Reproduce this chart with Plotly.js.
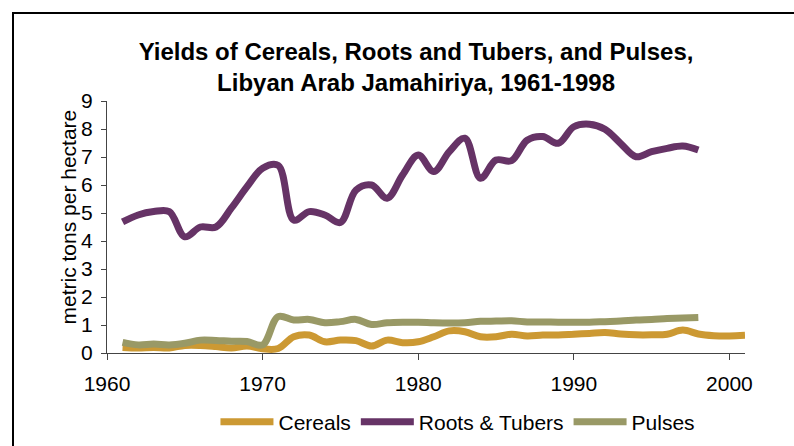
<!DOCTYPE html>
<html>
<head>
<meta charset="utf-8">
<script src="https://cdn.plot.ly/plotly-3.0.1.min.js"></script>
<style>
html,body{margin:0;padding:0;width:794px;height:446px;overflow:hidden;background:#fff;}
#chart{position:absolute;left:0;top:0;width:794px;height:446px;}
#frame{position:absolute;left:12px;top:12px;width:900px;height:600px;border-left:2px solid #000;border-top:2px solid #000;pointer-events:none;}
</style>
</head>
<body>
<div id="chart"></div>
<div id="frame"></div>
<script>
// Data
const yearsCereals = [1961,1962,1963,1964,1965,1966,1967,1968,1969,1970,1971,1972,1973,1974,1975,1976,1977,1978,1979,1980,1981,1982,1983,1984,1985,1986,1987,1988,1989,1990,1991,1992,1993,1994,1995,1996,1997,1998,1999,2000,2001];
const cereals = [0.20,0.18,0.20,0.18,0.27,0.27,0.23,0.18,0.25,0.15,0.16,0.58,0.64,0.40,0.46,0.44,0.25,0.46,0.37,0.40,0.58,0.79,0.76,0.58,0.58,0.67,0.61,0.64,0.64,0.67,0.70,0.73,0.68,0.65,0.65,0.67,0.82,0.68,0.62,0.61,0.63];

const yearsOther = [1961,1962,1963,1964,1965,1966,1967,1968,1969,1970,1971,1972,1973,1974,1975,1976,1977,1978,1979,1980,1981,1982,1983,1984,1985,1986,1987,1988,1989,1990,1991,1992,1993,1994,1995,1996,1997,1998];
const rootsTubers = [4.68,4.93,5.05,5.05,4.15,4.50,4.50,5.18,5.94,6.60,6.70,4.75,5.05,4.93,4.66,5.82,6.00,5.53,6.36,7.07,6.48,7.19,7.67,6.24,6.89,6.87,7.60,7.73,7.49,8.08,8.17,7.99,7.49,7.01,7.19,7.31,7.39,7.25];
const pulses = [0.38,0.29,0.32,0.29,0.35,0.46,0.45,0.42,0.41,0.29,1.30,1.18,1.20,1.08,1.12,1.20,1.02,1.08,1.10,1.10,1.08,1.07,1.08,1.13,1.14,1.15,1.11,1.11,1.10,1.10,1.10,1.12,1.14,1.18,1.20,1.23,1.25,1.27];

const seriesNames = ["Cereals","Roots & Tubers","Pulses"];
const seriesColors = ["#CC9933","#663366","#999966"];
const xTicks = [1960,1970,1980,1990,2000];
const yTicks = [0,1,2,3,4,5,6,7,8,9];
const titleText = "<b>Yields of Cereals, Roots and Tubers, and Pulses,<br>Libyan Arab Jamahiriya, 1961-1998</b>";
const yTitleText = "metric tons per hectare";

const font = "Liberation Sans, Arial, sans-serif";

function tr(x, y, i){
  return {x:x, y:y, name:seriesNames[i], type:"scatter", mode:"lines",
    line:{color:seriesColors[i], width:7, shape:"spline", smoothing:1}};
}
const data = [tr(yearsCereals,cereals,0), tr(yearsOther,rootsTubers,1), tr(yearsOther,pulses,2)];

const layout = {
  width:794, height:446,
  margin:{l:107, r:49, t:101, b:93, autoexpand:false},
  paper_bgcolor:"#fff", plot_bgcolor:"#fff",
  font:{family:font, color:"#000", size:21},
  title:{text:titleText, font:{family:font, size:24, color:"#000"}, automargin:false,
    xref:"container", x:0.524, xanchor:"center", yref:"container", y:0.865, yanchor:"top"},
  xaxis:{range:[1960,2001], tickvals:xTicks, ticktext:xTicks.map(String), showgrid:false, zeroline:false,
    showline:true, linecolor:"#444", linewidth:1, ticks:"outside", ticklen:6, tickcolor:"#444",
    tickfont:{size:21, family:font}, ticklabelstandoff:6, automargin:false},
  yaxis:{range:[0,9], tickvals:yTicks, showgrid:false, zeroline:false,
    showline:true, linecolor:"#444", linewidth:1, ticks:"outside", ticklen:5, tickcolor:"#444",
    tickfont:{size:21, family:font}, ticklabelstandoff:4, automargin:false},
  annotations:[{text:yTitleText, textangle:-90, xref:"paper", yref:"paper",
    x:-0.061, y:0.538, xanchor:"center", yanchor:"middle", showarrow:false,
    font:{size:21, family:font, color:"#000"}}],
  showlegend:true,
  legend:{orientation:"h", x:0.17, xanchor:"left", y:-0.274, yanchor:"middle", font:{size:21, family:font},
    itemwidth:53, tracegroupgap:0, bgcolor:"rgba(0,0,0,0)"}
};
Plotly.newPlot("chart", data, layout, {displayModeBar:false, staticPlot:true});
</script>
</body>
</html>
